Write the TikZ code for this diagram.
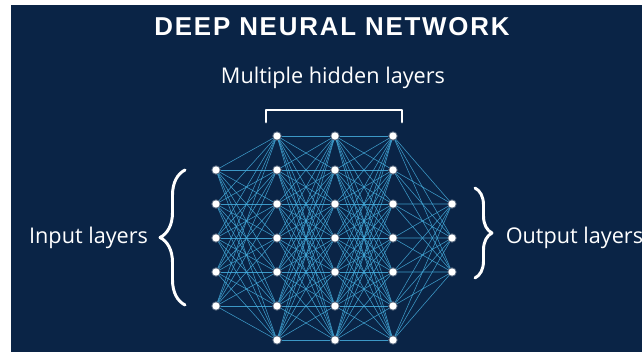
\documentclass[tikz,border=0pt]{standalone}
\usepackage{fontspec}
\setmainfont{Open Sans}
\newfontfamily\titlefont[LetterSpace=7]{Liberation Sans}
\usetikzlibrary{decorations.pathreplacing,backgrounds}

\definecolor{navy}{HTML}{0A2446}
\definecolor{wire}{HTML}{45ADDD}

\tikzset{
  neuron/.style={circle,fill=white,inner sep=0pt,minimum size=0.18cm,
    draw=white,draw opacity=0.35,line width=1.4pt},
  link/.style={wire,line width=0.4pt,opacity=0.85},
  bracket/.style={white,line width=2.1pt,line cap=round,line join=round},
  caption/.style={text=white,font=\fontsize{15.4}{18}\selectfont},
  heading/.style={text=white,font=\titlefont\bfseries\fontsize{18.4}{20}\selectfont}
}

\begin{document}
\begin{tikzpicture}
\useasboundingbox (0,0) rectangle (16.05,8.8);

\node[heading] (title) at (8.3,8.14) {DEEP NEURAL NETWORK};
\node[caption,anchor=base] (hidden) at (8.325,6.7) {Multiple hidden layers};

% input layer
\foreach \i in {1,...,5}
  \node[neuron] (in\i) at (5.4,{5.4-0.85*\i}) {};

% three hidden layers
\foreach \l/\x in {1/6.925,2/8.375,3/9.825}
  \foreach \i in {1,...,7}
    \node[neuron] (h\l-\i) at (\x,{6.25-0.85*\i}) {};

% output layer
\foreach \i in {1,2,3}
  \node[neuron] (out\i) at (11.3,{4.55-0.85*\i}) {};

\node[caption,anchor=east] (input) at (3.825,2.85) {Input layers};
\node[caption,anchor=west] (output) at (12.52,2.85) {Output layers};

% brackets
\draw[bracket] (6.65,5.75) -- (6.65,6.05) -- (10.05,6.05) -- (10.05,5.75);
\draw[bracket,decorate,decoration={brace,amplitude=0.625cm}] (4.625,1.175) -- (4.625,4.55);
\draw[bracket,decorate,decoration={brace,amplitude=0.425cm}] (11.875,4.1) -- (11.875,1.85);

% backdrop and all the weights
\begin{scope}[on background layer]
\fill[white] (0,0) rectangle (16.05,8.8);
\fill[navy] (0.275,0) rectangle (16.05,8.675);
\foreach \i in {1,...,5}
  \foreach \j in {1,...,7}
    \draw[link] (in\i) -- (h1-\j);
\foreach \a/\b in {1/2,2/3}
  \foreach \i in {1,...,7}
    \foreach \j in {1,...,7}
      \draw[link] (h\a-\i) -- (h\b-\j);
\foreach \i in {1,...,7}
  \foreach \j in {1,2,3}
    \draw[link] (h3-\i) -- (out\j);
\end{scope}

\end{tikzpicture}
\end{document}
